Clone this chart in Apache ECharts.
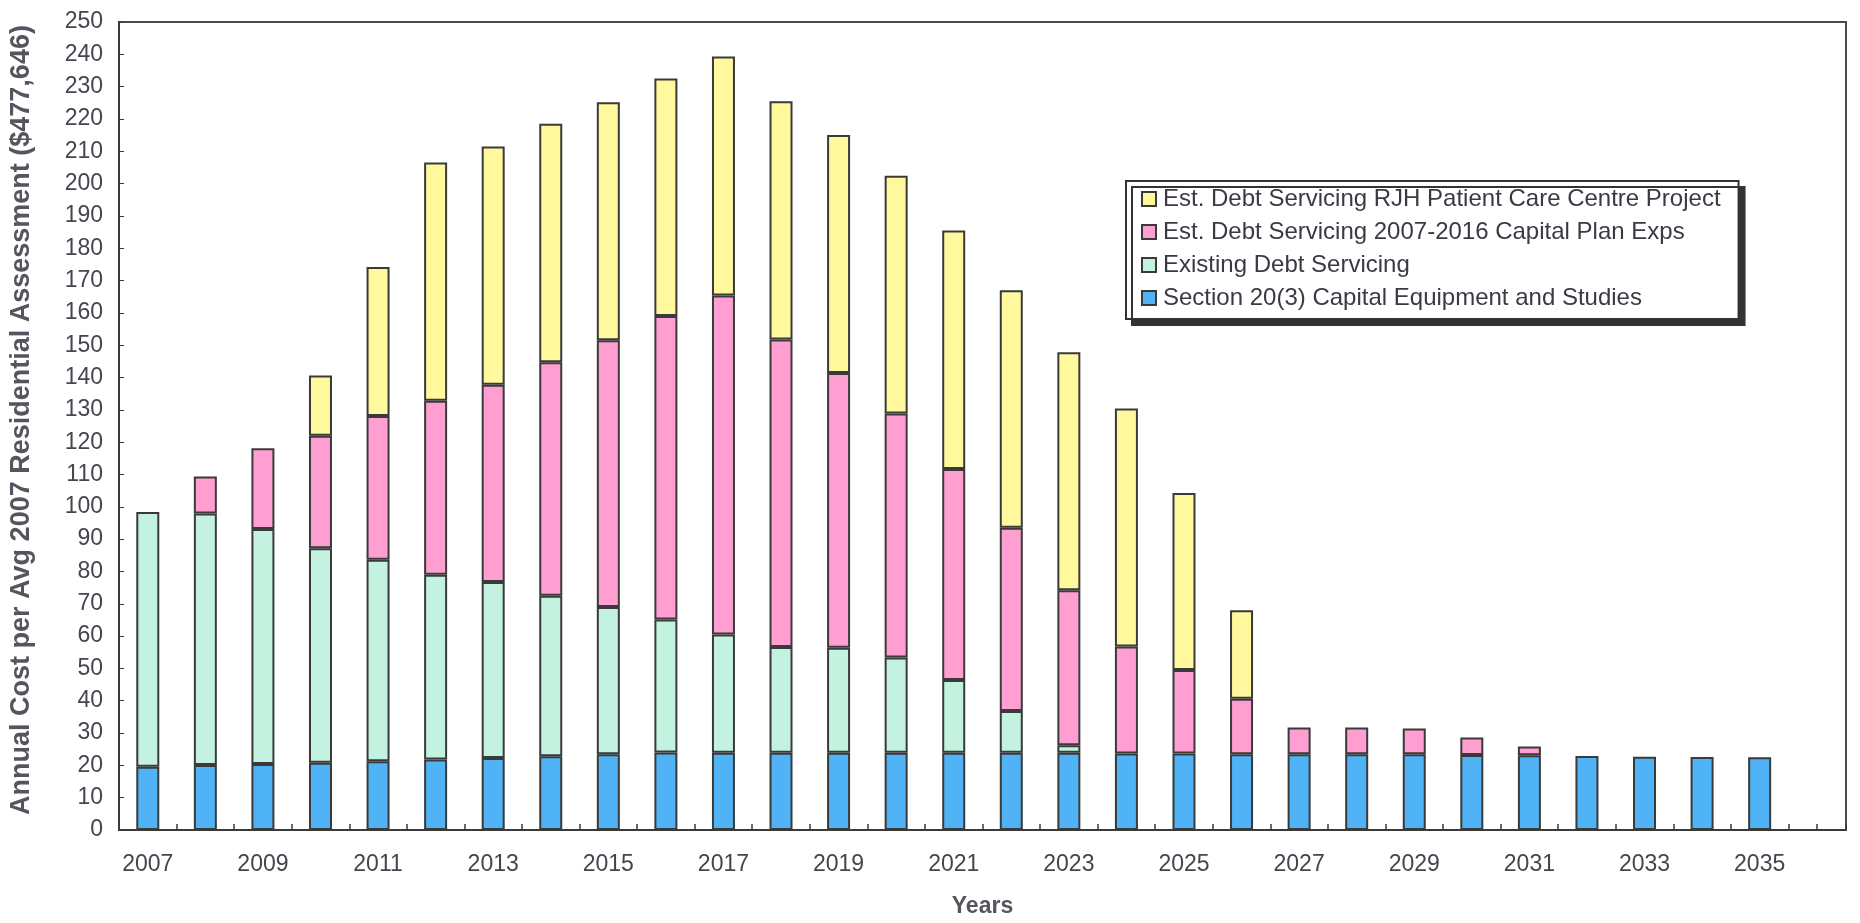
<!DOCTYPE html>
<html>
<head>
<meta charset="utf-8">
<script src="https://cdn.jsdelivr.net/npm/echarts@6/dist/echarts.min.js"></script>
<style>html,body{margin:0;padding:0;background:#fff;}#c{width:1860px;height:923px;}</style>
</head>
<body>
<div id="c"></div>
<script>
const years = ['2007','2008','2009','2010','2011','2012','2013','2014','2015','2016','2017','2018','2019','2020','2021','2022','2023','2024','2025','2026','2027','2028','2029','2030','2031','2032','2033','2034','2035','2036'];
const seriesNames = [
  'Est. Debt Servicing RJH Patient Care Centre Project',
  'Est. Debt Servicing 2007-2016 Capital Plan Exps',
  'Existing Debt Servicing',
  'Section 20(3) Capital Equipment and Studies'
];
const section20 = [19.6,20.1,20.4,20.8,21.3,21.8,22.3,22.8,23.4,24.0,23.9,23.9,23.9,23.9,23.9,23.9,23.9,23.7,23.7,23.4,23.4,23.4,23.4,23.2,23.1,22.9,22.7,22.6,22.5,null];
const existingDebt = [78.8,77.8,72.7,66.4,62.3,57.2,54.4,49.7,45.6,41.1,36.6,32.7,32.5,29.5,22.5,12.9,2.3,null,null,null,null,null,null,null,null,null,null,null,null,null];
const capitalPlan = [null,11.5,25.0,34.8,44.5,53.8,61.1,72.2,82.5,93.9,104.9,95.2,85.0,75.5,65.3,56.7,48.0,33.1,25.8,17.2,8.3,8.3,8.0,5.4,2.7,null,null,null,null,null];
const rjhProject = [null,null,null,18.6,46.1,73.7,73.7,73.8,73.7,73.5,73.9,73.7,73.6,73.5,73.8,73.5,73.6,73.6,54.8,27.4,null,null,null,null,null,null,null,null,null,null];

const FONT = 'Arial, "Liberation Sans", sans-serif';
const TXT = '#45454f';
const EDGE = '#3a3a3a';
const chart = echarts.init(document.getElementById('c'));
function bar(name, data, color) {
  return {
    name, type: 'bar', stack: 'total', data, barWidth: 23, xAxisIndex: 0,
    itemStyle: { color, borderColor: EDGE, borderWidth: 2 },
    emphasis: { disabled: true }
  };
}
chart.setOption({
  animation: false,
  backgroundColor: '#ffffff',
  grid: { left: 112, right: 14, top: 22, bottom: 87, show: true, borderColor: '#4a4a4a', borderWidth: 2, backgroundColor: 'transparent' },
  legend: {
    orient: 'vertical', left: 1126, top: 181,
    data: seriesNames,
    itemWidth: 14, itemHeight: 14, itemGap: 9,
    padding: [6, 18, 9, 15],
    backgroundColor: '#fff', borderColor: '#333', borderWidth: 2,
    shadowColor: '#333', shadowOffsetX: 6, shadowOffsetY: 6, shadowBlur: 0,
    textStyle: { fontFamily: FONT, fontSize: 24, color: '#3a3a44', padding: [0,0,0,2] },
    icon: 'rect', selectedMode: false
  },
  xAxis: [{
    type: 'category', data: years, position: 'bottom',
    name: 'Years', nameLocation: 'middle', nameGap: 65,
    nameTextStyle: { fontFamily: FONT, fontSize: 23, fontWeight: 'bold', color: '#55555f' },
    axisLine: { lineStyle: { color: '#3a3a3a', width: 2 } },
    axisTick: { show: true, inside: true, interval: 0, length: 6, lineStyle: { color: '#3a3a3a', width: 1.5 } },
    axisLabel: { interval: 1, margin: 23, fontFamily: FONT, fontSize: 23, color: TXT }
  }, {
    type: 'category', data: years, position: 'bottom',
    axisLine: { show: false },
    axisTick: { show: true, inside: true, interval: 0, alignWithLabel: true, length: 6, lineStyle: { color: '#3a3a3a', width: 1.5 } },
    axisLabel: { show: false }
  }],
  yAxis: {
    type: 'value', min: 0, max: 250, interval: 10,
    name: 'Annual Cost per Avg 2007 Residential Assessment ($477,646)',
    nameLocation: 'middle', nameGap: 84, nameRotate: 90,
    nameTextStyle: { fontFamily: FONT, fontSize: 27, fontWeight: 'bold', color: '#55555f', padding: [0,0,0,12] },
    axisLine: { show: true, lineStyle: { color: '#3a3a3a', width: 2 } },
    axisTick: { show: true, inside: true, length: 5, lineStyle: { color: '#3a3a3a' } },
    splitLine: { show: false },
    axisLabel: { margin: 16, fontFamily: FONT, fontSize: 23, color: TXT }
  },
  series: [
    bar(seriesNames[3], section20, '#4fb3f6'),
    bar(seriesNames[2], existingDebt, '#c3f3e0'),
    bar(seriesNames[1], capitalPlan, '#ff9fd1'),
    bar(seriesNames[0], rjhProject, '#fff89c')
  ]
});
</script>
</body>
</html>
